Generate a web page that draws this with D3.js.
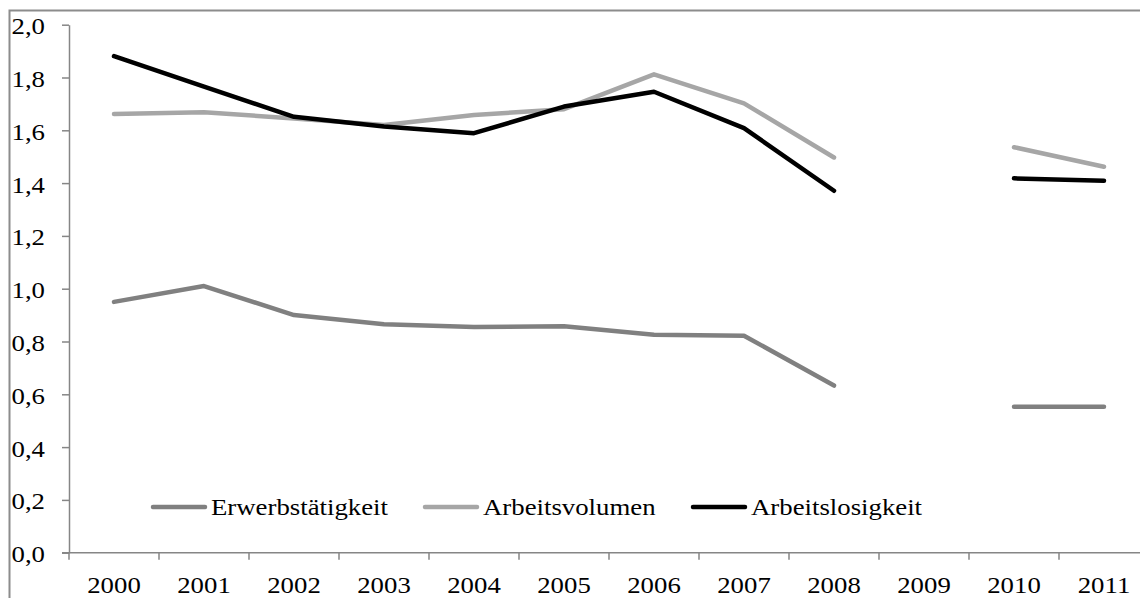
<!DOCTYPE html>
<html>
<head>
<meta charset="utf-8">
<script src="https://cdn.jsdelivr.net/npm/d3@7"></script>
<style>
  html, body { margin: 0; padding: 0; background: #fff; }
  svg { display: block; }
  text { font-family: "Liberation Serif", "Times New Roman", serif; fill: #000; }
</style>
</head>
<body>
<svg id="chart" width="1140" height="598"></svg>
<script>
// Jahre auf der Kategorienachse
const years = ["2000","2001","2002","2003","2004","2005","2006","2007","2008","2009","2010","2011"];

// Werte je Reihe (2009 ohne Angabe)
const erwerbstaetigkeit = [0.95, 1.01, 0.90, 0.865, 0.855, 0.858, 0.826, 0.822, 0.633, null, 0.553, 0.553];
const arbeitsvolumen    = [1.662, 1.668, 1.645, 1.62, 1.658, 1.68, 1.812, 1.702, 1.497, null, 1.536, 1.462];
const arbeitslosigkeit  = [1.881, 1.765, 1.651, 1.614, 1.589, 1.69, 1.746, 1.608, 1.371, null, 1.418, 1.409];

const seriesNames  = ["Erwerbstätigkeit", "Arbeitsvolumen", "Arbeitslosigkeit"];
const seriesColors = ["#808080", "#a6a6a6", "#000000"];
const yTicks = [0, 0.2, 0.4, 0.6, 0.8, 1.0, 1.2, 1.4, 1.6, 1.8, 2.0];

const svg = d3.select("#chart");
const axisColor = "#868686";
const fontSize = 23.5;
const stretch = 1.14;   // breiter laufende Schrift

// Text an (px, py) mit horizontaler Dehnung um den Ankerpunkt
function wideText(sel, px, py) {
  sel.attr("x", 0).attr("y", 0)
     .attr("transform", (d, i) => `translate(${typeof px === "function" ? px(d, i) : px},${py}) scale(${stretch},1)`);
}

// Rahmen um die Grafik
svg.append("rect")
  .attr("x", 9.5).attr("y", 10.5)
  .attr("width", 1200).attr("height", 700)
  .attr("fill", "none").attr("stroke", "#8c8c8c").attr("stroke-width", 2);

const x = d3.scaleBand().domain(years).range([69, 1149]);
const y = d3.scaleLinear().domain([0, 2]).range([552.7, 24.7]);

const fmt = v => d3.format(".1f")(v).replace(".", ",");

// Y-Achse
const yAxis = svg.append("g")
  .attr("transform", `translate(${x.range()[0]},0)`)
  .call(d3.axisLeft(y).tickValues(yTicks).tickFormat(fmt).tickSize(7).tickSizeOuter(0));
yAxis.select(".domain").attr("stroke", axisColor).attr("stroke-width", 1.5);
yAxis.selectAll(".tick line").attr("stroke", axisColor).attr("stroke-width", 1.5);
yAxis.selectAll(".tick text")
  .attr("font-size", fontSize)
  .attr("font-family", "Liberation Serif")
  .attr("fill", "#000")
  .attr("dy", null)
  .attr("dominant-baseline", "central")
  .attr("x", 0)
  .attr("transform", `translate(-24,1) scale(${stretch},1)`);

// X-Achse mit Teilstrichen an den Kategoriegrenzen
const xAxisG = svg.append("g").attr("transform", `translate(0,${y(0)})`);
xAxisG.append("line")
  .attr("x1", x.range()[0] - 7).attr("x2", x.range()[1])
  .attr("stroke", axisColor).attr("stroke-width", 1.5);
xAxisG.selectAll("line.tick")
  .data(years)
  .join("line")
  .attr("class", "tick")
  .attr("x1", d => x(d)).attr("x2", d => x(d))
  .attr("y1", 0).attr("y2", 7)
  .attr("stroke", axisColor).attr("stroke-width", 1.5);
xAxisG.selectAll("text")
  .data(years)
  .join("text")
  .attr("text-anchor", "middle")
  .attr("font-size", fontSize)
  .text(d => d)
  .call(wideText, d => x(d) + x.bandwidth() / 2, 40.5);

// Linien
const allSeries = [erwerbstaetigkeit, arbeitsvolumen, arbeitslosigkeit];
const line = d3.line()
  .defined(d => d.v !== null)
  .x(d => x(d.year) + x.bandwidth() / 2)
  .y(d => y(d.v));

allSeries.forEach((vals, i) => {
  const pts = years.map((yr, j) => ({ year: yr, v: vals[j] }));
  svg.append("path")
    .datum(pts)
    .attr("d", line)
    .attr("fill", "none")
    .attr("stroke", seriesColors[i])
    .attr("stroke-width", 4.5)
    .attr("stroke-linejoin", "round")
    .attr("stroke-linecap", "round");
});

// Legende
const legendX = [153, 425, 693];
const legend = svg.append("g");
seriesNames.forEach((name, i) => {
  legend.append("line")
    .attr("x1", legendX[i]).attr("x2", legendX[i] + 52)
    .attr("y1", 507).attr("y2", 507)
    .attr("stroke", seriesColors[i])
    .attr("stroke-width", 4.5)
    .attr("stroke-linecap", "round");
  legend.append("text")
    .attr("font-size", fontSize)
    .text(name)
    .call(wideText, legendX[i] + 58, 515);
});
</script>
</body>
</html>
